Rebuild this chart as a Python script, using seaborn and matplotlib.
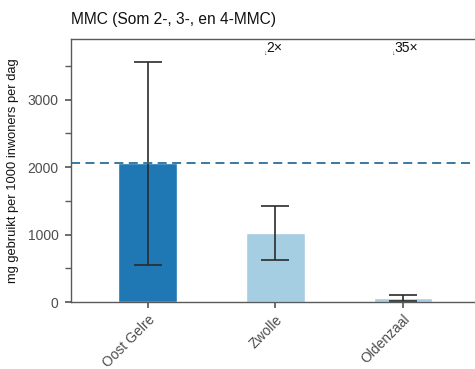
import matplotlib
matplotlib.use("Agg")
import matplotlib.pyplot as plt
import seaborn as sns
import pandas as pd

# Per-city MMC load (mg per 1000 inhabitants per day) with interval bounds
cities = ["Oost Gelre", "Zwolle", "Oldenzaal"]
values = [2060, 1022, 59]
lower = [548, 622, 15]
upper = [3556, 1422, 104]
bar_colors = ["#1f78b4", "#a6cee3", "#a6cee3"]
fold_labels = ["", "2×", "35×"]
reference_value = 2060

sns.set_theme(style="ticks")
plt.rcParams["font.family"] = ["Liberation Sans", "DejaVu Sans"]

df = pd.DataFrame({"city": cities, "value": values})

fig = plt.figure(figsize=(4.75, 3.69), dpi=100)
ax = fig.add_axes([71 / 475, 1 - 302 / 369, 1 - 71 / 475 + 0.01, (302 - 39) / 369])

sns.barplot(data=df, x="city", y="value", hue="city", palette=bar_colors,
            legend=False, width=0.46, saturation=1, ax=ax, errorbar=None)

xs = range(len(cities))
ax.errorbar(list(xs), values,
            yerr=[[v - l for v, l in zip(values, lower)],
                  [u - v for v, u in zip(values, upper)]],
            fmt="none", ecolor="#2b2b2b", elinewidth=1.2, capsize=10, capthick=1.2)

ax.axhline(reference_value, color="#2a6d9c", linestyle=(0, (5, 3)), linewidth=1.3)

for i, lab in enumerate(fold_labels):
    if lab:
        ax.annotate("↓", (i, 3690), xytext=(-6, 0), textcoords="offset points",
                    ha="right", va="center", fontsize=5, color="#333333")
        ax.annotate(lab, (i, 3770), xytext=(-6.5, 0), textcoords="offset points",
                    ha="left", va="center", fontsize=10, color="#111111")

ax.set_xlim(-0.6, 2.6)
ax.set_ylim(0, 3900)
ax.set_yticks([0, 1000, 2000, 3000])
ax.set_yticks([500, 1500, 2500, 3500], minor=True)
ax.set_xlabel("")
ax.set_ylabel("mg gebruikt per 1000 inwoners per dag", fontsize=9.3, color="#111111",
              labelpad=6)
ax.set_title("MMC (Som 2-, 3-, en 4-MMC)", loc="left", fontsize=11.2, pad=11, color="#111111")

for s in ["left", "bottom", "top"]:
    ax.spines[s].set_color("#5a5a5a")
    ax.spines[s].set_linewidth(1.0)
ax.spines["right"].set_visible(False)
ax.tick_params(axis="both", which="both", colors="#5a5a5a", labelcolor="#4d4d4d",
               labelsize=10, length=4)
ax.tick_params(axis="y", which="both", pad=5)
plt.setp(ax.get_xticklabels(), rotation=45, ha="right", rotation_mode="anchor")

fig.savefig("out.png", dpi=100)
